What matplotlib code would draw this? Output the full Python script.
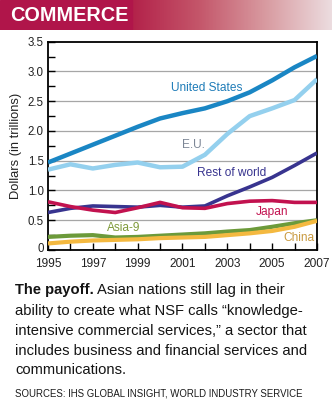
import numpy as np
import matplotlib
matplotlib.use("Agg")
import matplotlib.pyplot as plt
import matplotlib.transforms as mtransforms
from matplotlib.colors import LinearSegmentedColormap

# Output in the commercial knowledge-intensive sector, trillions of dollars
years = np.arange(1995, 2008)
us = [1.47, 1.62, 1.77, 1.92, 2.07, 2.21, 2.30, 2.38, 2.50, 2.65, 2.85, 3.07, 3.26]
eu = [1.35, 1.44, 1.37, 1.43, 1.47, 1.39, 1.40, 1.60, 1.95, 2.25, 2.38, 2.52, 2.87]
rest_of_world = [0.63, 0.70, 0.74, 0.73, 0.72, 0.75, 0.72, 0.74, 0.91, 1.06, 1.22, 1.42, 1.63]
japan = [0.81, 0.73, 0.67, 0.63, 0.71, 0.80, 0.71, 0.70, 0.78, 0.82, 0.83, 0.80, 0.80]
asia9 = [0.22, 0.24, 0.25, 0.21, 0.22, 0.24, 0.26, 0.28, 0.31, 0.335, 0.39, 0.45, 0.50]
china = [0.11, 0.14, 0.16, 0.17, 0.18, 0.20, 0.21, 0.22, 0.25, 0.28, 0.32, 0.39, 0.49]

series = [
    # name, values, line colour, label colour, label (x, y), linewidth
    ("United States", us, "#1a86c4", "#1f7cb8", (2002.1, 2.73), 3.2),
    ("E.U.", eu, "#94d0ee", "#7d8796", (2001.5, 1.76), 3.2),
    ("Rest of world", rest_of_world, "#38348f", "#38348f", (2003.2, 1.29), 2.6),
    ("Japan", japan, "#c2124f", "#c2124f", (2005.0, 0.64), 2.6),
    ("Asia-9", asia9, "#6c9a3a", "#7f9a3a", (1998.4, 0.37), 3.0),
    ("China", china, "#f4b940", "#c99a40", (2006.2, 0.20), 3.0),
]

sans = ["Liberation Sans", "DejaVu Sans"]
W, H = 332, 416
fig = plt.figure(figsize=(W / 100, H / 100), dpi=100)
fig.patch.set_facecolor("white")
renderer = fig.canvas.get_renderer()


def fit_width(txt, width_px):
    """Rescale a text's font size so it spans width_px pixels."""
    w = txt.get_window_extent(renderer).width
    txt.set_fontsize(txt.get_fontsize() * width_px / w)
    return txt.get_fontsize()


# header band: solid red block fading out to the right
hdr = fig.add_axes([0, 1 - 30 / H, 1, 30 / H])
hdr.set_xlim(0, W)
hdr.set_ylim(0, 1)
hdr.axis("off")
fade = LinearSegmentedColormap.from_list("fade", ["#b3224a", "#c4566a", "#d89aa0", "#ecdcdf"])
hdr.imshow(np.linspace(0, 1, 200)[None, :], cmap=fade, aspect="auto",
           extent=(132, W, 0, 1), zorder=0)
hdr.axvspan(0, 132, color="#b0154a", zorder=1)
title = hdr.text(10, 0.47, "COMMERCE", color="white", fontsize=15, fontweight="bold",
                 family=sans, va="center", ha="left", zorder=2)
fit_width(title, 118)

# main chart
ax = fig.add_axes([48 / W, 1 - 250 / H, (317 - 48) / W, (250 - 41.7) / H])
ax.set_xlim(1995, 2007)
ax.set_ylim(0, 3.5)

for val in np.arange(0.5, 3.5, 0.5):
    ax.axhline(val, color="#a6a6a6", lw=0.9, zorder=1)

for name, vals, col, tcol, (lx, ly), lw in series:
    ax.plot(years, vals, color=col, lw=lw, solid_capstyle="butt", zorder=3)
    ax.text(lx, ly, name, color=tcol, fontsize=8.6, family=sans,
            ha="center", va="center", zorder=4)

ax.set_xticks(years)
ax.set_xticklabels([str(y) if y % 2 == 1 else "" for y in years])
ticks_y = np.arange(0, 3.51, 0.25)
ax.set_yticks(ticks_y)
ax.set_yticklabels(["0" if v == 0 else (f"{v:.1f}" if (v * 2) % 1 == 0 else "")
                    for v in ticks_y])
ax.tick_params(direction="in", length=5, width=1, colors="black")
ax.tick_params(axis="y", pad=3, labelsize=8.3)
ax.tick_params(axis="x", pad=5.5, labelsize=8.6)
for lab in ax.get_xticklabels() + ax.get_yticklabels():
    lab.set_family(sans)
    lab.set_color("#222222")
# lift the zero label a little so it clears the first year
zero_lab = ax.get_yticklabels()[0]
zero_lab.set_transform(zero_lab.get_transform() +
                       mtransforms.ScaledTranslation(0, 3 / 100, fig.dpi_scale_trans))
for sp in ax.spines.values():
    sp.set_linewidth(1.3)
ax.set_ylabel("Dollars (in trillions)", fontsize=9.3, family=sans,
              color="#222222", labelpad=4)

# caption block, laid out line by line in pixel coordinates
cap_lines = [
    "Asian nations still lag in their",
    "ability to create what NSF calls \u201cknowledge-",
    "intensive commercial services,\u201d a sector that",
    "includes business and financial services and",
    "communications.",
]
line_y = [290, 311, 331, 351, 370]
ref = fig.text(15 / W, 1 - line_y[3] / H, cap_lines[3], fontsize=10,
               family=sans, color="#141414", va="center")
cap_size = fit_width(ref, 290)

lead = fig.text(15 / W, 1 - line_y[0] / H, "The payoff.", fontsize=cap_size,
                fontweight="bold", family=sans, color="#141414", va="center")
lead_w = lead.get_window_extent(renderer).width
fig.text((15 + lead_w + 3) / W, 1 - line_y[0] / H, cap_lines[0], fontsize=cap_size,
         family=sans, color="#141414", va="center")
for i in (1, 2, 4):
    fig.text(15 / W, 1 - line_y[i] / H, cap_lines[i], fontsize=cap_size, family=sans,
             color="#141414", va="center")

src = fig.text(15 / W, 1 - 394 / H, "SOURCES: IHS GLOBAL INSIGHT, WORLD INDUSTRY SERVICE",
               fontsize=6.5, family=sans, color="#1a1a1a", va="center")
fit_width(src, 287)

fig.savefig("out.png", dpi=100, facecolor="white")
